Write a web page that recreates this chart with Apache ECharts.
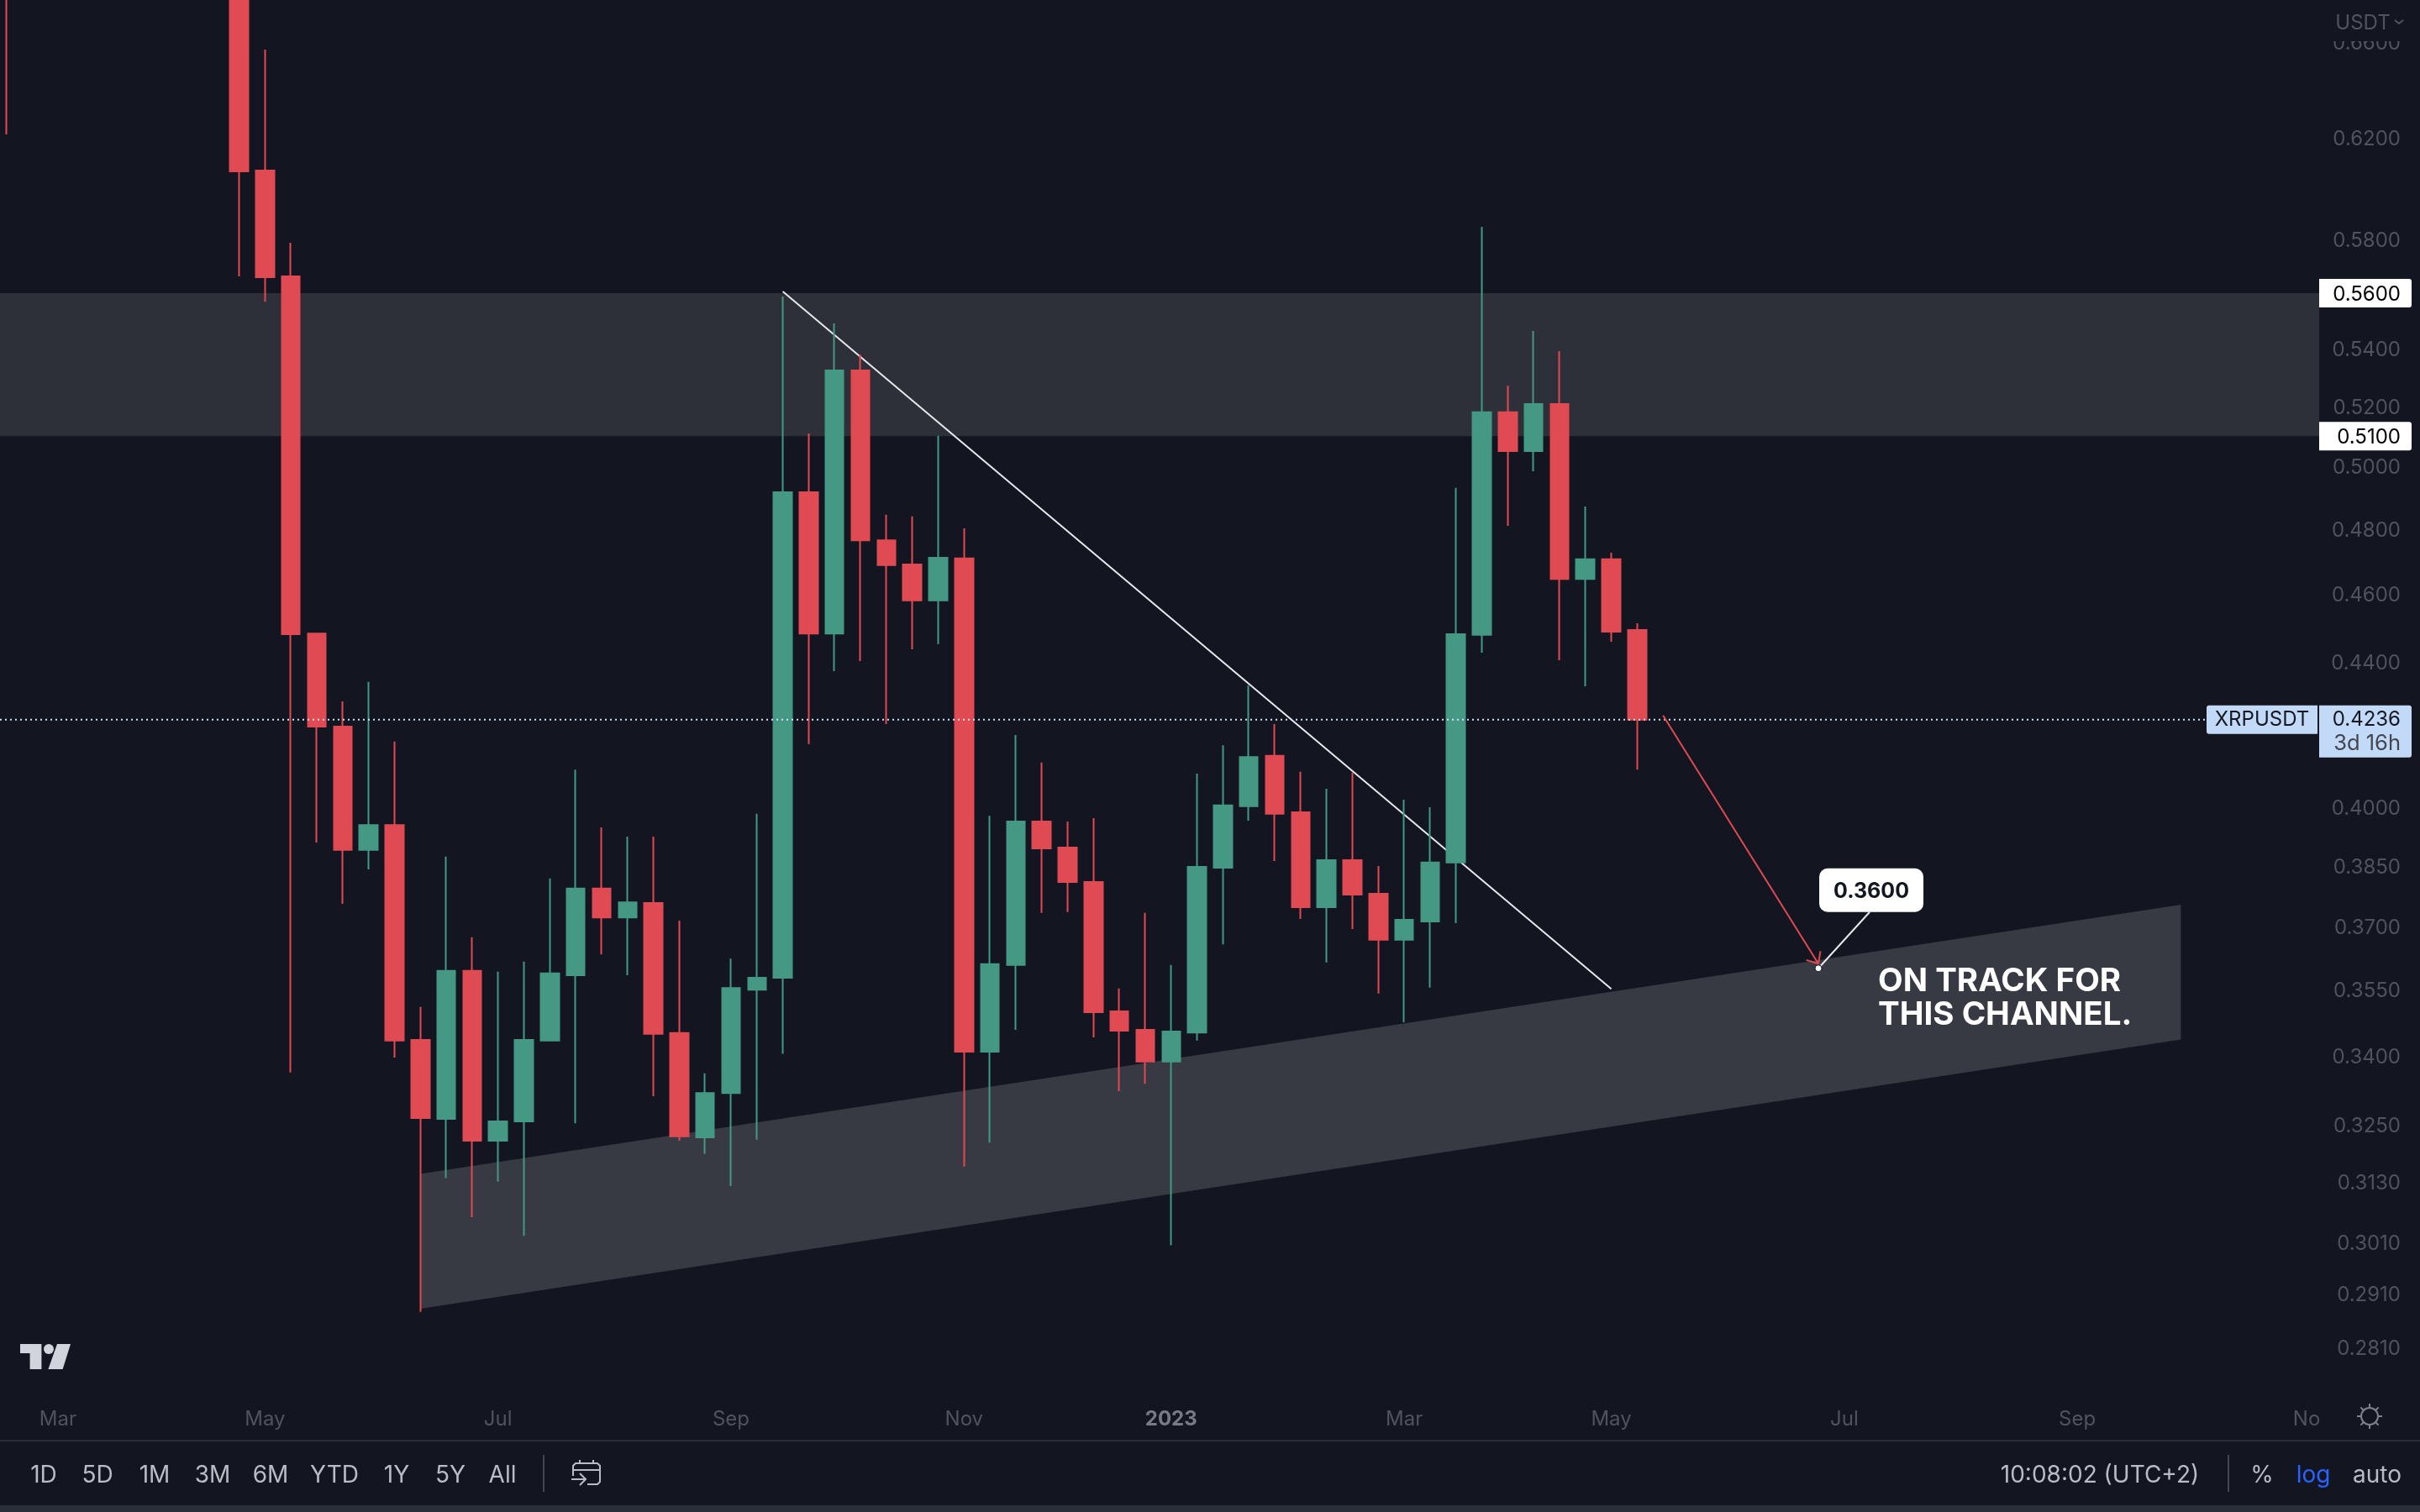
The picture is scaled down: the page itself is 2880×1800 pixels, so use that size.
<!DOCTYPE html>
<html>
<head>
<meta charset="utf-8">
<style>html,body{margin:0;padding:0;background:#131621}#c{width:2880px;height:1800px}</style>
<script src="https://cdn.jsdelivr.net/npm/echarts@6/dist/echarts.min.js"></script>
</head>
<body>
<div id="c"></div>
<script>
const weeks = ['2022-02-21','2022-04-25','2022-05-02','2022-05-09','2022-05-16','2022-05-23','2022-05-30','2022-06-06','2022-06-13','2022-06-20','2022-06-27','2022-07-04','2022-07-11','2022-07-18','2022-07-25','2022-08-01','2022-08-08','2022-08-15','2022-08-22','2022-08-29','2022-09-05','2022-09-12','2022-09-19','2022-09-26','2022-10-03','2022-10-10','2022-10-17','2022-10-24','2022-10-31','2022-11-07','2022-11-14','2022-11-21','2022-11-28','2022-12-05','2022-12-12','2022-12-19','2022-12-26','2023-01-02','2023-01-09','2023-01-16','2023-01-23','2023-01-30','2023-02-06','2023-02-13','2023-02-20','2023-02-27','2023-03-06','2023-03-13','2023-03-20','2023-03-27','2023-04-03','2023-04-10','2023-04-17','2023-04-24','2023-05-01','2023-05-08'];
const opens  = [0.80,0.72,0.6068,0.5662,0.4482,0.4217,0.3890,0.3954,0.3435,0.3262,0.3594,0.3216,0.3257,0.3434,0.3584,0.3793,0.3722,0.3757,0.3451,0.3223,0.3318,0.3550,0.3578,0.4916,0.4482,0.5324,0.4764,0.4689,0.4580,0.4708,0.3409,0.3608,0.3963,0.3896,0.3809,0.3500,0.3458,0.3387,0.3452,0.3845,0.4003,0.4137,0.3987,0.3747,0.3864,0.3780,0.3668,0.3712,0.3858,0.4478,0.5180,0.5050,0.5208,0.4645,0.4705,0.4492];
const closes = [0.72,0.6065,0.5659,0.4480,0.4217,0.3890,0.3954,0.3434,0.3264,0.3594,0.3216,0.3257,0.3435,0.3588,0.3793,0.3722,0.3759,0.3449,0.3225,0.3318,0.3554,0.3578,0.4916,0.4482,0.5324,0.4764,0.4687,0.4580,0.4710,0.3409,0.3610,0.3963,0.3894,0.3809,0.3498,0.3456,0.3387,0.3454,0.3847,0.4005,0.4134,0.3983,0.3747,0.3864,0.3778,0.3668,0.3716,0.3858,0.4480,0.5180,0.5050,0.5208,0.4645,0.4705,0.4487,0.4236];
const lows   = [0.6213,0.5662,0.5569,0.3363,0.3909,0.3755,0.3841,0.3396,0.2875,0.3138,0.3059,0.3131,0.3022,0.3432,0.3253,0.3633,0.3584,0.3311,0.3216,0.3188,0.3122,0.3218,0.3404,0.4169,0.4373,0.4402,0.4224,0.4436,0.4451,0.3162,0.3212,0.3458,0.3733,0.3735,0.3441,0.3322,0.3338,0.3003,0.3434,0.3657,0.3965,0.3862,0.3718,0.3614,0.3694,0.3541,0.3475,0.3555,0.3708,0.4426,0.4809,0.4984,0.4404,0.4330,0.4458,0.4100];
const highs  = [0.84,0.76,0.6568,0.5788,0.4482,0.4287,0.4342,0.4176,0.3510,0.3873,0.3674,0.3592,0.3616,0.3818,0.4100,0.3948,0.3924,0.3924,0.3714,0.3361,0.3623,0.3983,0.5588,0.5109,0.5490,0.5380,0.4844,0.4839,0.5101,0.4801,0.3978,0.4194,0.4119,0.3963,0.3972,0.3553,0.3733,0.3608,0.4089,0.4166,0.4332,0.4224,0.4094,0.4049,0.4092,0.3849,0.4020,0.4000,0.4930,0.5849,0.5271,0.5463,0.5392,0.4870,0.4725,0.4512];

const priceTicks = [0.66,0.62,0.58,0.54,0.52,0.50,0.48,0.46,0.44,0.40,0.385,0.37,0.355,0.34,0.325,0.313,0.301,0.291,0.281];
const timeTickDates = ['2022-03-07','2022-05-02','2022-07-04','2022-09-05','2022-11-07','2023-01-02','2023-03-06','2023-05-01','2023-07-03','2023-09-04','2023-11-05'];
const timeTickNames = ['Mar','May','Jul','Sep','Nov','2023','Mar','May','Jul','Sep','No'];

const resistanceZone = [0.56, 0.51];
const lastPrice = 0.4236;
const channelDates = ['2022-06-13','2023-10-02'];
const channelUpper = [0.3147,0.3753];
const channelLower = [0.2881,0.3436];
const trendDates = ['2022-09-19','2023-05-01'];
const trendPrices = [0.5606,0.3552];
const arrowDates = ['2023-05-15','2023-06-26'];
const arrowPrices = [0.4248,0.3611];
const targetDate = '2023-06-26';
const targetPrice = 0.36;
const rangeButtons = ['1D','5D','1M','3M','6M','YTD','1Y','5Y','All'];

const X_MIN = '2022-02-19T08:10:00Z', X_MAX = '2023-11-08T09:36:00Z';
const Y_MIN = 0.2721, Y_MAX = 0.67845;
const ms = s => new Date(s.length > 10 ? s : s + 'T00:00:00Z').getTime();

const BG='#131621', RED='#e04a52', GREEN='#459883', MUTED='#50535e', LIGHT='#b9bcc4', FONT='Inter, sans-serif';
const xMinMs = ms(X_MIN), xMaxMs = ms(X_MAX);
const seed = [[xMinMs, Y_MIN]];
const tickLabel = {};
timeTickDates.forEach((d,i)=>{ tickLabel[ms(d)] = timeTickNames[i]; });

const txt = (text,x,y,font,fill,align)=>({type:'text',silent:true,z:100,style:{text,x,y,font,fill,textAlign:align||'center',textVerticalAlign:'middle'}});
const ln = (x1,y1,x2,y2,stroke,w)=>({type:'line',silent:true,z:100,shape:{x1,y1,x2,y2},style:{stroke,lineWidth:w||2}});

function customSeries(z, render){
  return {type:'custom',coordinateSystem:'cartesian2d',z,silent:true,animation:false,clip:false,data:seed,encode:{x:0,y:1},renderItem:render};
}

const zoneSeries = customSeries(1,(p,api)=>{
  const a=api.coord([xMinMs,resistanceZone[0]]), b=api.coord([xMaxMs,resistanceZone[1]]);
  return {type:'rect',shape:{x:a[0],y:a[1],width:b[0]-a[0],height:b[1]-a[1]},style:{fill:'#2e3039'}};
});
const channelSeries = customSeries(1,(p,api)=>{
  const pts=[api.coord([ms(channelDates[0]),channelUpper[0]]),api.coord([ms(channelDates[1]),channelUpper[1]]),
             api.coord([ms(channelDates[1]),channelLower[1]]),api.coord([ms(channelDates[0]),channelLower[0]])];
  return {type:'polygon',shape:{points:pts},style:{fill:'#383a43'}};
});
const trendSeries = customSeries(2,(p,api)=>{
  const a=api.coord([ms(trendDates[0]),trendPrices[0]]), b=api.coord([ms(trendDates[1]),trendPrices[1]]);
  return {type:'line',shape:{x1:a[0],y1:a[1],x2:b[0],y2:b[1]},style:{stroke:'#e8e9ec',lineWidth:2}};
});
const overlaySeries = customSeries(5,(p,api)=>{
  const kids=[];
  const left=api.coord([xMinMs,lastPrice]);
  const yLast=left[1];
  kids.push({type:'line',shape:{x1:0,y1:yLast,x2:2626,y2:yLast},style:{stroke:'#d5e2f6',lineWidth:2,lineDash:[2,4]}});
  // arrow
  const a=api.coord([ms(arrowDates[0]),arrowPrices[0]]), b=api.coord([ms(arrowDates[1]),arrowPrices[1]]);
  kids.push({type:'line',shape:{x1:a[0],y1:a[1],x2:b[0],y2:b[1]},style:{stroke:RED,lineWidth:2}});
  const ang=Math.atan2(a[1]-b[1],a[0]-b[0]);
  [-0.72,0.72].forEach(d=>{
    kids.push({type:'line',shape:{x1:b[0],y1:b[1],x2:b[0]+15*Math.cos(ang+d),y2:b[1]+15*Math.sin(ang+d)},style:{stroke:RED,lineWidth:2}});
  });
  // callout
  const t=api.coord([ms(targetDate),targetPrice]);
  const bx=t[0]+1, by=t[1]-119;
  kids.push({type:'line',shape:{x1:t[0],y1:t[1],x2:t[0]+61,y2:t[1]-67},style:{stroke:'#e8e9ec',lineWidth:2}});
  kids.push({type:'circle',shape:{cx:t[0],cy:t[1],r:4},style:{fill:'#ffffff',stroke:BG,lineWidth:1}});
  kids.push({type:'rect',shape:{x:bx,y:by,width:124,height:52,r:10},style:{fill:'#ffffff'}});
  kids.push({type:'text',style:{text:'0.3600',x:bx+62,y:by+28,font:'700 25px '+FONT,fill:'#131722',textAlign:'center',textVerticalAlign:'middle'}});
  kids.push({type:'text',style:{text:'ON TRACK FOR',x:t[0]+71,y:t[1]+16,font:'700 38.5px '+FONT,fill:'#ffffff',textAlign:'left',textVerticalAlign:'middle'}});
  kids.push({type:'text',style:{text:'THIS CHANNEL.',x:t[0]+71,y:t[1]+56,font:'700 38.5px '+FONT,fill:'#ffffff',textAlign:'left',textVerticalAlign:'middle'}});
  // price boxes on the scale
  resistanceZone.forEach(v=>{
    const y=api.coord([xMinMs,v])[1];
    kids.push({type:'rect',shape:{x:2760,y:y-17,width:110,height:34,r:[0,3,3,0]},style:{fill:'#ffffff'}});
    kids.push({type:'text',style:{text:v.toFixed(4),x:2857,y:y+2,font:'24px '+FONT,fill:'#000000',textAlign:'right',textVerticalAlign:'middle'}});
  });
  kids.push({type:'rect',shape:{x:2626,y:yLast-17,width:132,height:34,r:[3,0,0,3]},style:{fill:'#c3d9f8'}});
  kids.push({type:'text',style:{text:'XRPUSDT',x:2692,y:yLast,font:'24px '+FONT,fill:'#131722',textAlign:'center',textVerticalAlign:'middle'}});
  kids.push({type:'rect',shape:{x:2760,y:yLast-17,width:110,height:62,r:[0,3,3,0]},style:{fill:'#c3d9f8'}});
  kids.push({type:'text',style:{text:lastPrice.toFixed(4),x:2857,y:yLast,font:'24px '+FONT,fill:'#131722',textAlign:'right',textVerticalAlign:'middle'}});
  kids.push({type:'text',style:{text:'3d 16h',x:2857,y:yLast+28,font:'25.5px '+FONT,fill:'#434651',textAlign:'right',textVerticalAlign:'middle'}});
  return {type:'group',children:kids};
});

const candleData = weeks.map((w,i)=>[ms(w),opens[i],closes[i],lows[i],highs[i]]);

const btnX=[52,116,184,253,322,398,472,536,598];
const graphicEls=[
  {type:'rect',silent:true,z:100,shape:{x:2760,y:0,width:120,height:49},style:{fill:BG}},
  txt('USDT',2812,28,'24px '+FONT,MUTED),
  {type:'polyline',silent:true,z:100,shape:{points:[[2850,24],[2855,28],[2860,24]]},style:{stroke:MUTED,lineWidth:2,fill:'none'}},
  // logo
  {type:'polygon',silent:true,z:100,shape:{points:[[24,1600],[49.4,1600],[49.4,1630],[35.6,1630],[35.6,1611],[24,1611]]},style:{fill:'#d1d4dc'}},
  {type:'circle',silent:true,z:100,shape:{cx:58,cy:1606,r:6},style:{fill:'#d1d4dc'}},
  {type:'polygon',silent:true,z:100,shape:{points:[[68,1600],[84,1600],[74.6,1630],[57.4,1630]]},style:{fill:'#d1d4dc'}},
  // separators
  {type:'rect',silent:true,z:100,shape:{x:0,y:1714,width:2880,height:2},style:{fill:'#2a2e39'}},
  {type:'rect',silent:true,z:100,shape:{x:0,y:1792,width:2880,height:8},style:{fill:'#2a2e39'}},
  ln(647,1732,647,1776,'#434651'), ln(2652,1732,2652,1776,'#434651'),
  // calendar icon
  {type:'polyline',silent:true,z:100,shape:{points:[[682,1757],[682,1745],[685,1742],[711,1742],[714,1745],[714,1764],[711,1767],[699,1767]]},style:{stroke:LIGHT,lineWidth:2,fill:'none'}},
  ln(682,1750,714,1750,LIGHT), ln(690,1738,690,1742,LIGHT), ln(706,1738,706,1742,LIGHT),
  ln(680,1761,696,1761,LIGHT),
  {type:'polyline',silent:true,z:100,shape:{points:[[690,1754],[697,1761],[690,1768]]},style:{stroke:LIGHT,lineWidth:2,fill:'none'}},
  // gear
  {type:'circle',silent:true,z:100,shape:{cx:2820,cy:1686,r:10},style:{stroke:'#7f828b',lineWidth:2,fill:'none'}},
  txt('10:08:02 (UTC+2)',2499,1757,'28px '+FONT,LIGHT),
  txt('%',2692,1757,'28px '+FONT,LIGHT),
  txt('log',2753,1757,'28px '+FONT,'#2962ff'),
  txt('auto',2829,1757,'28px '+FONT,LIGHT),
];
for(let i=0;i<8;i++){const a=i*Math.PI/4;graphicEls.push(ln(2820+10*Math.cos(a),1686+10*Math.sin(a),2820+15*Math.cos(a),1686+15*Math.sin(a),'#7f828b'));}
rangeButtons.forEach((t,i)=>graphicEls.push(txt(t,btnX[i],1757,'28px '+FONT,LIGHT)));

const chart=echarts.init(document.getElementById('c'),null,{renderer:'canvas',width:2880,height:1800});
chart.setOption({
  animation:false,
  backgroundColor:BG,
  grid:{left:0,right:120,top:0,height:1662,containLabel:false},
  xAxis:{type:'value',min:xMinMs,max:xMaxMs,scale:true,
    axisLine:{show:false},axisTick:{show:false},splitLine:{show:false},
    axisLabel:{customValues:timeTickDates.map(ms),hideOverlap:false,margin:16,fontFamily:'Inter',fontSize:24,color:MUTED,
      formatter:v=>{const n=tickLabel[v]; return n==='2023'?'{b|2023}':(n||'');},
      rich:{b:{fontFamily:'Inter',fontSize:24,fontWeight:'bold',color:'#787b86'}}}},
  yAxis:{type:'log',logBase:10,position:'right',min:Y_MIN,max:Y_MAX,
    axisLine:{show:false},axisTick:{show:false},splitLine:{show:false},minorSplitLine:{show:false},
    axisLabel:{customValues:priceTicks,hideOverlap:false,showMinLabel:true,showMaxLabel:true,margin:97,align:'right',fontFamily:'Inter',fontSize:24,color:MUTED,
      formatter:v=>'{t|'+Number(v).toFixed(4)+'}',
      rich:{t:{fontFamily:'Inter',fontSize:24,color:MUTED,padding:[4,0,0,0]}}}},
  graphic:{elements:graphicEls},
  series:[
    zoneSeries,channelSeries,trendSeries,
    {type:'candlestick',z:3,silent:true,animation:false,barWidth:22,clip:true,data:candleData,encode:{x:0,y:[1,2,3,4]},
      itemStyle:{color:GREEN,color0:RED,borderColor:GREEN,borderColor0:RED,borderWidth:2}},
    overlaySeries
  ]
});
</script>
</body>
</html>
